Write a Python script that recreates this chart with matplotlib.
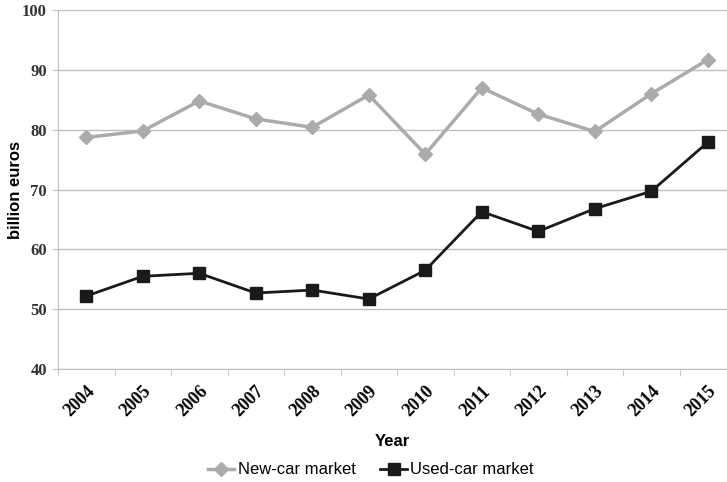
import matplotlib.pyplot as plt
import numpy as np

years = ['2004', '2005', '2006', '2007', '2008', '2009', '2010', '2011', '2012', '2013', '2014', '2015']
new_car = [78.7, 79.8, 84.8, 81.8, 80.4, 85.8, 75.9, 87.0, 82.6, 79.7, 86.0, 91.7]
used_car = [52.2, 55.5, 56.0, 52.7, 53.2, 51.7, 56.5, 66.3, 63.0, 66.8, 69.7, 77.9]
y_ticks = [40, 50, 60, 70, 80, 90, 100]

fig = plt.figure(figsize=(7.27, 4.82), dpi=100)
ax = fig.add_axes([0.0798, 0.2344, 0.9326, 0.7448])

x = np.arange(len(years))
ax.plot(x, new_car, color='#ababab', lw=2.5, marker='D', ms=7, label='New-car market', zorder=3)
ax.plot(x, used_car, color='#1a1a1a', lw=2.0, marker='s', ms=8, label='Used-car market', zorder=3)

ax.set_xlim(-0.5, len(years) - 0.5)
ax.set_ylim(40, 100)
ax.set_yticks(y_ticks)
ax.yaxis.grid(True, color='#c0c0c0', lw=1)
ax.set_axisbelow(True)

ax.set_xticks(x)
ax.set_xticklabels(years, rotation=45, ha='right', rotation_mode='anchor',
                   fontfamily='Liberation Serif', fontweight='bold', fontsize=13)
ax.set_xticks(np.arange(-0.5, len(years), 1), minor=True)
ax.tick_params(axis='x', which='major', length=0, pad=10)
ax.tick_params(axis='x', which='minor', length=5, color='#c0c0c0')
ax.tick_params(axis='y', length=4, color='#c0c0c0', pad=4)
for lbl in ax.get_yticklabels():
    lbl.set_fontfamily('Liberation Serif')
    lbl.set_fontweight('bold')
    lbl.set_fontsize(12)
    lbl.set_color('#333333')

for s in ['top', 'right']:
    ax.spines[s].set_visible(False)
ax.spines['left'].set_color('#c0c0c0')
ax.spines['bottom'].set_color('#c0c0c0')

# axis titles placed in figure coords to match the reference layout
fig.text(392 / 727, 1 - 442 / 482, 'Year', ha='center', va='center',
         fontfamily='Liberation Sans', fontweight='bold', fontsize=12)
fig.text(16 / 727, 1 - 190 / 482, 'billion euros', ha='center', va='center', rotation=90,
         fontfamily='Liberation Sans', fontweight='bold', fontsize=12)

fig.legend(loc='center', bbox_to_anchor=(0.51, 1 - 470 / 482), ncol=2, frameon=False,
           prop={'family': 'Liberation Sans', 'size': 12}, handlelength=1.6, handletextpad=0.2,
           columnspacing=1.5)

fig.savefig('out.png', dpi=100)
